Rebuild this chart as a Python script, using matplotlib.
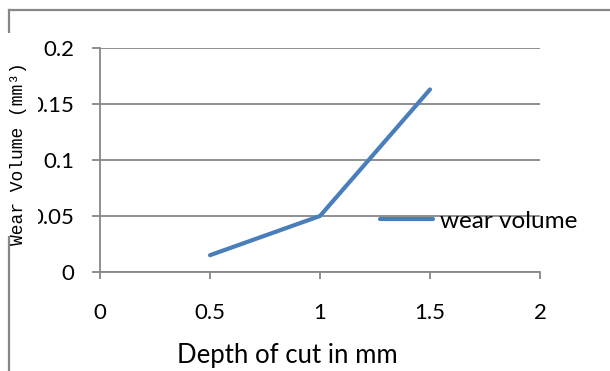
import matplotlib
matplotlib.use('Agg')
from matplotlib import pyplot as plt
from matplotlib.patches import Rectangle
from matplotlib.lines import Line2D

# --- Data

depth = [0.5, 1.0, 1.5]
wear = [0.015, 0.05, 0.163]
x_ticks = [0, 0.5, 1, 1.5, 2]
y_ticks = [0, 0.05, 0.1, 0.15, 0.2]
y_tick_labels = ['0', '0.05', '0.1', '0.15', '0.2']

# --- Styling

W, H = 610, 371
GREY = '#878787'
BLUE = '#4A7EBB'
plt.rcParams['font.family'] = ['Lato', 'DejaVu Sans']

fig = plt.figure(figsize=(W / 100, H / 100), dpi=100)
fig.patch.set_facecolor('white')

left, right, top, bottom = 100, 540, 48, 272
ax = fig.add_axes([left / W, 1 - bottom / H, (right - left) / W, (bottom - top) / H])

ax.plot(depth, wear, color=BLUE, lw=3, solid_capstyle='round', label='wear volume')

ax.set_xlim(0, 2)
ax.set_ylim(0, 0.2)
ax.set_xticks(x_ticks)
ax.set_xticklabels([f'{t:g}' for t in x_ticks])
ax.set_yticks(y_ticks)
ax.set_yticklabels(y_tick_labels)
ax.tick_params(axis='both', labelsize=16, colors=GREY, labelcolor='black')
ax.tick_params(axis='y', direction='out', length=5.5, width=1.3, pad=13)
ax.tick_params(axis='x', direction='out', length=5, width=1.3, pad=17)

ax.grid(axis='y', color=GREY, lw=1.3)
ax.set_axisbelow(True)
for side in ('top', 'right'):
    ax.spines[side].set_visible(False)
for side in ('left', 'bottom'):
    ax.spines[side].set_color(GREY)
    ax.spines[side].set_linewidth(1.3)

# axis title sits left of the plot centre
ax.set_xlabel('Depth of cut in mm', fontsize=18.5)
ax.xaxis.set_label_coords((287.5 - left) / (right - left), -(355 - bottom) / (bottom - top))
ax.xaxis.label.set_va('center')

# legend sits on the 0.05 gridline, partly past the plot edge
leg = ax.legend(loc='center left', bbox_to_anchor=(380 / W, 1 - 221 / H),
                bbox_transform=fig.transFigure, frameon=False, fontsize=17.5,
                handlelength=2.2, handletextpad=0.25, borderpad=0, borderaxespad=0)

# outer border: only the top and left edges are kept
fig.add_artist(Line2D([9 / W, 1], [1 - 10 / H, 1 - 10 / H], color=GREY, lw=1.6))
fig.add_artist(Line2D([9 / W, 9 / W], [0, 1 - 10 / H], color=GREY, lw=1.6))

# the y label box covers the border and the first digits of the tick labels
fig.add_artist(Rectangle((4 / W, 1 - 236 / H), 33.5 / W, 203 / H,
                         transform=fig.transFigure, facecolor='white',
                         edgecolor='none', zorder=5))
fig.text(19 / W, 1 - 154 / H, 'Wear Volume (mm³)', rotation=90, ha='center',
         va='center', fontsize=13, family='Liberation Mono', zorder=6)

fig.savefig('out.png', dpi=100)
